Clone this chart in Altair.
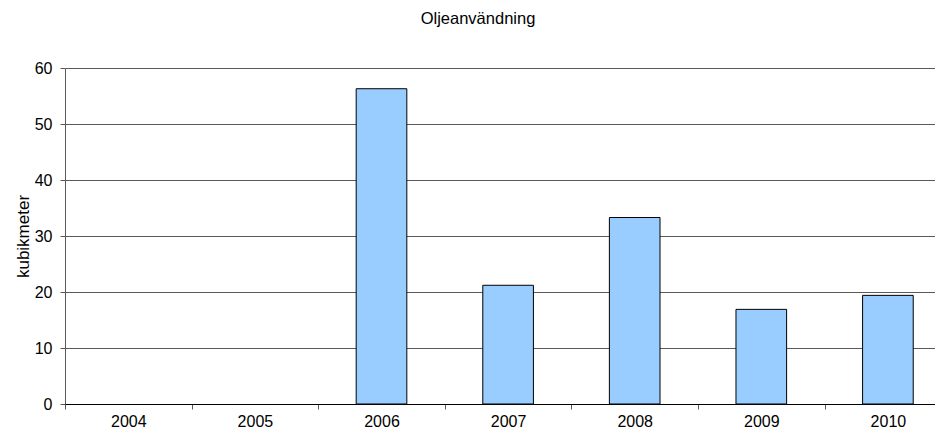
import altair as alt
import pandas as pd

years = [2004, 2005, 2006, 2007, 2008, 2009, 2010]
values = [0, 0, 56.3, 21.2, 33.3, 16.9, 19.4]
y_ticks = [0, 10, 20, 30, 40, 50, 60]

df = pd.DataFrame({"year": years, "value": values})

FONT = "Liberation Sans"
GRID = "#5a5a5a"

chart = (
    alt.Chart(df)
    .transform_filter("datum.value > 0")
    .transform_calculate(x0="datum.year - 0.2", x1="datum.year + 0.2")
    .mark_bar(fill="#99CCFF", stroke="black", strokeWidth=1)
    .encode(
        x=alt.X(
            "x0:Q",
            scale=alt.Scale(domain=[2003.5, 2010.372], nice=False, zero=False),
            axis=alt.Axis(
                values=years,
                grid=False,
                title=None,
                domainColor="black",
                tickColor=GRID,
                tickSize=5,
                tickOffset=-63.3,
                labelOffset=63.3,
                labelBaseline="alphabetic",
                labelPadding=17,
                labelFontSize=16,
                labelFont=FONT,
                labelColor="black",
                labelFlush=False,
                labelOverlap=False,
                format="d",
                zindex=1,
            ),
        ),
        x2="x1:Q",
        y=alt.Y(
            "value:Q",
            scale=alt.Scale(domain=[0, 60], nice=False),
            axis=alt.Axis(
                values=y_ticks,
                grid=True,
                gridColor=GRID,
                gridWidth=1,
                domainColor=GRID,
                tickColor=GRID,
                tickSize=5,
                labelPadding=8,
                labelFontSize=16,
                labelFont=FONT,
                labelColor="black",
                title="kubikmeter",
                titleFont=FONT,
                titleFontSize=17,
                titleFontWeight="normal",
                titleColor="black",
                titleAngle=-90,
                titleX=-37,
                titleY=168,
                titleAlign="center",
                titleBaseline="alphabetic",
            ),
        ),
        y2=alt.datum(0),
    )
    .properties(
        width=870,
        height=336,
        autosize="none",
        padding={"left": 57, "top": 60, "right": 0, "bottom": 25},
        title=alt.TitleParams(
            "Oljeanvändning",
            font=FONT,
            fontSize=16.5,
            fontWeight="normal",
            color="black",
            anchor="middle",
            frame="group",
            offset=20,
            baseline="alphabetic",
            dx=-22,
        ),
    )
    .configure_view(strokeWidth=0)
)

chart.save("out.html", embed_options={"renderer": "svg", "actions": False})
